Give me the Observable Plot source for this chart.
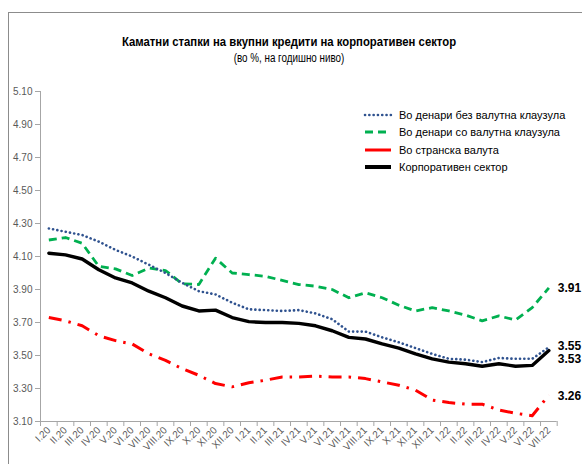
<!DOCTYPE html>
<html><head><meta charset="utf-8">
<script src="https://cdn.jsdelivr.net/npm/d3@7"></script>
<script src="https://cdn.jsdelivr.net/npm/@observablehq/plot@0.6"></script>
<style>
body{margin:0;background:#fff;}
#wrap{position:relative;width:582px;height:464px;overflow:hidden;font-family:"Liberation Sans",Arial,sans-serif;}
#frame{position:absolute;left:8px;top:12px;width:620px;height:500px;border-left:1px solid #8c8c8c;border-top:1px solid #8c8c8c;}
#chart{position:absolute;left:0;top:0;}
#title{position:absolute;left:0;width:578px;top:34px;text-align:center;font-weight:bold;font-size:13px;color:#000;transform:scaleX(0.87);transform-origin:289px 0;}
#subtitle{position:absolute;left:0;width:578px;top:51px;text-align:center;font-size:12px;color:#000;transform:scaleX(0.82);transform-origin:289px 0;}
#legend{position:absolute;left:363px;top:106px;font-size:11px;color:#000;}
#legend .row{height:17.5px;display:flex;align-items:center;white-space:nowrap;}
#legend svg{margin-right:6px;}
</style></head>
<body>
<div id="wrap">
  <div id="frame"></div>
  <div id="chart"></div>
  <div id="title">Каматни стапки на вкупни кредити на корпоративен сектор</div>
  <div id="subtitle">(во %, на годишно ниво)</div>
  <div id="legend"></div>
</div>
<script>
const months = ["I.20","II.20","III.20","IV.20","V.20","VI.20","VII.20","VIII.20","IX.20","X.20","XI.20","XII.20",
  "I.21","II.21","III.21","IV.21","V.21","VI.21","VII.21","VIII.21","IX.21","X.21","XI.21","XII.21",
  "I.22","II.22","III.22","IV.22","V.22","VI.22","VII.22"];
const seriesNames = ["Во денари без валутна клаузула","Во денари со валутна клаузула","Во странска валута","Корпоративен сектор"];
const noClause = [4.27,4.25,4.23,4.19,4.14,4.10,4.05,4.00,3.94,3.89,3.87,3.82,3.78,3.775,3.77,3.775,3.755,3.72,3.645,3.645,3.61,3.58,3.545,3.51,3.48,3.475,3.46,3.485,3.48,3.48,3.55];
const withClause = [4.20,4.215,4.18,4.04,4.025,3.985,4.03,4.015,3.935,3.93,4.09,4.00,3.99,3.98,3.955,3.93,3.92,3.90,3.85,3.88,3.85,3.805,3.77,3.79,3.77,3.745,3.71,3.74,3.715,3.79,3.91];
const foreign = [3.73,3.71,3.68,3.62,3.59,3.57,3.51,3.47,3.42,3.38,3.33,3.31,3.335,3.35,3.37,3.37,3.375,3.37,3.37,3.36,3.34,3.32,3.29,3.23,3.215,3.205,3.205,3.17,3.15,3.135,3.26];
const corporate = [4.12,4.11,4.085,4.02,3.97,3.94,3.89,3.85,3.80,3.77,3.775,3.73,3.705,3.70,3.70,3.695,3.68,3.65,3.61,3.60,3.57,3.545,3.51,3.48,3.46,3.45,3.435,3.45,3.435,3.44,3.53];
const yTicks = [3.10,3.30,3.50,3.70,3.90,4.10,4.30,4.50,4.70,4.90,5.10];

const toRows = arr => arr.map((v, i) => ({i, v}));
const last = arr => [{i: arr.length - 1, v: arr[arr.length - 1]}];

const styles = [
  {stroke:"#2f528f", strokeWidth:2.6, strokeDasharray:"0.1 4.2", strokeLinecap:"round"},
  {stroke:"#00b050", strokeWidth:2.8, strokeDasharray:"8 5", strokeLinecap:"butt"},
  {stroke:"#ff0000", strokeWidth:3, strokeDasharray:"13 7 2.5 7", strokeLinecap:"butt"},
  {stroke:"#000000", strokeWidth:3.4, strokeLinecap:"round"}
];
const legendStyles = [
  styles[0], styles[1],
  {stroke:"#ff0000", strokeWidth:3},
  {stroke:"#000000", strokeWidth:4}
];

const chart = Plot.plot({
  width: 582, height: 464,
  marginLeft: 40, marginRight: 25.3, marginTop: 91, marginBottom: 43,
  x: {type: "linear", domain: [-0.5, 30.5]},
  y: {domain: [3.1, 5.1]},
  style: {fontFamily: "'Liberation Sans', Arial, sans-serif", fontSize: "10px", background: "transparent", overflow: "visible"},
  marks: [
    Plot.axisY({ticks: yTicks, tickFormat: d3.format(".2f"), tickSize: 5, tickPadding: 3, label: null, stroke: "#a6a6a6", fill: "#595959"}),
    Plot.axisX({ticks: d3.range(-0.5, 31, 1), tickFormat: () => "", tickSize: 5, label: null, stroke: "#a6a6a6"}),
    Plot.axisX({ticks: d3.range(months.length), tickFormat: i => months[i], tickSize: 0, tickPadding: 7, tickRotate: -45, label: null, fill: "#595959"}),
    Plot.ruleX([-0.5], {stroke: "#a6a6a6"}),
    Plot.ruleY([3.1], {stroke: "#a6a6a6"}),
    Plot.line(toRows(withClause), {x: "i", y: "v", ...styles[1]}),
    Plot.line(toRows(foreign), {x: "i", y: "v", ...styles[2]}),
    Plot.line(toRows(corporate), {x: "i", y: "v", ...styles[3]}),
    Plot.line(toRows(noClause), {x: "i", y: "v", ...styles[0]}),
    Plot.text(last(withClause), {x: "i", y: "v", text: d => d.v.toFixed(2), dx: 9, textAnchor: "start", fontWeight: "bold", fontSize: 12, fill: "#000"}),
    Plot.text(last(noClause), {x: "i", y: "v", text: d => d.v.toFixed(2), dx: 9, dy: -1, textAnchor: "start", fontWeight: "bold", fontSize: 12, fill: "#000"}),
    Plot.text(last(corporate), {x: "i", y: "v", text: d => d.v.toFixed(2), dx: 9, dy: 9, textAnchor: "start", fontWeight: "bold", fontSize: 12, fill: "#000"}),
    Plot.text(last(foreign), {x: "i", y: "v", text: d => d.v.toFixed(2), dx: 9, dy: 1, textAnchor: "start", fontWeight: "bold", fontSize: 12, fill: "#000"})
  ]
});
document.getElementById("chart").appendChild(chart);

const legend = document.getElementById("legend");
seriesNames.forEach((name, k) => {
  const s = legendStyles[k];
  const row = document.createElement("div");
  row.className = "row";
  row.innerHTML = `<svg width="30" height="8"><line x1="2" x2="28" y1="4" y2="4" stroke="${s.stroke}" stroke-width="${s.strokeWidth}" ${s.strokeDasharray ? `stroke-dasharray="${s.strokeDasharray}"` : ""} stroke-linecap="${s.strokeLinecap || "butt"}"/></svg><span>${name}</span>`;
  legend.appendChild(row);
});
</script>
</body></html>
